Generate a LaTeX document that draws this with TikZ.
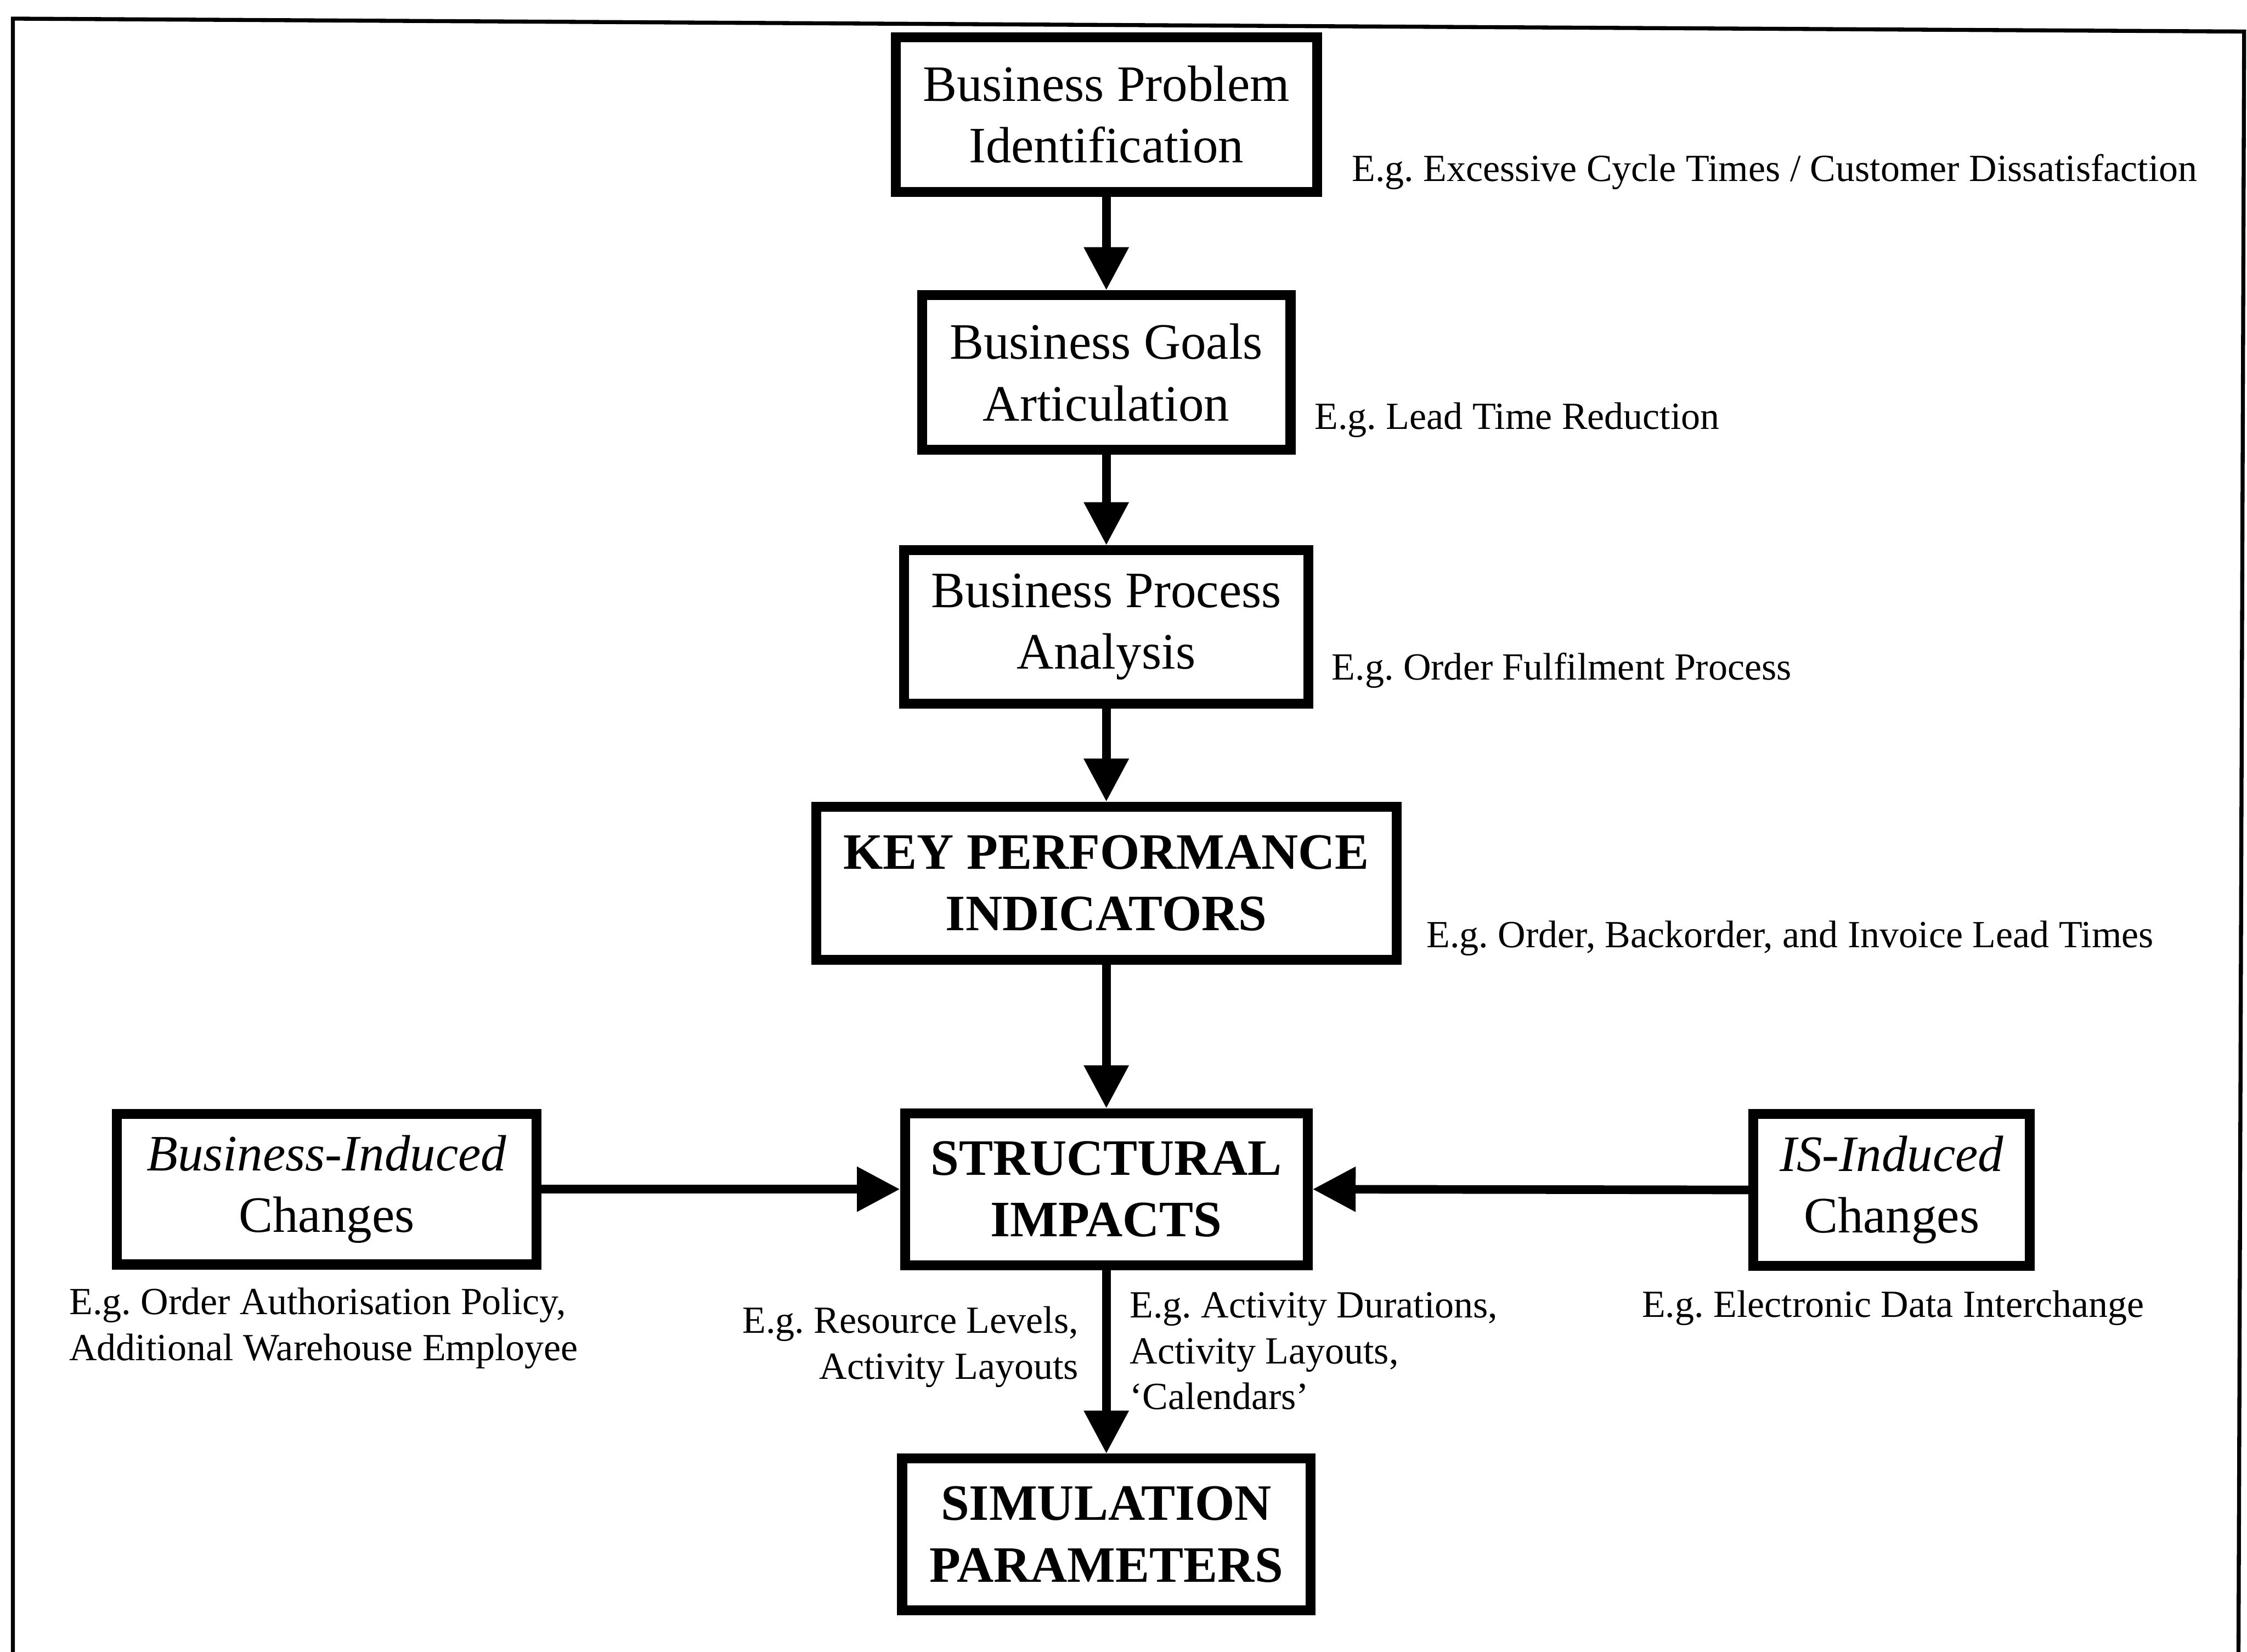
\documentclass[tikz,border=0pt]{standalone}
\usepackage{fontspec}
\setmainfont{Liberation Serif}
\usetikzlibrary{arrows.meta}

\newcommand{\boxfont}{\fontsize{17.8pt}{21.5pt}\selectfont}
\newcommand{\notefont}{\fontsize{13.4pt}{16pt}\selectfont}
\newcommand{\eg}{E.g.\ }

\begin{document}
\begin{tikzpicture}[x=0.5pt, y=-0.5pt,
  stage/.style={draw, line width=3.5pt, inner sep=0pt, align=center, font=\boxfont,
    execute at begin node={\rule{0pt}{19pt}}},
  note/.style={inner sep=0pt, font=\notefont},
  flow/.style={line width=3pt, -{Triangle[length=15pt, width=15pt]}}]

\useasboundingbox (0,0) rectangle (1568,1153);

% outer frame (open at the bottom)
\draw[line width=1.4pt] (9,1170) -- (9,13) -- (1566,22) -- (1562,1170);

% main column
\node[stage, minimum width=147pt, minimum height=54pt] (bpi) at (772,80)
  {Business Problem\\Identification};
\node[stage, minimum width=128.5pt, minimum height=54pt] (bga) at (772,260)
  {Business Goals\\Articulation};
\node[stage, minimum width=141pt, minimum height=53.5pt] (bpa) at (772,437.5)
  {Business Process\\Analysis};
\node[stage, minimum width=202.5pt, minimum height=53.5pt, font=\boxfont\bfseries] (kpi) at (772,616.5)
  {KEY PERFORMANCE\\INDICATORS};
\node[stage, minimum width=140.5pt, minimum height=53pt, font=\boxfont\bfseries] (si) at (772,830)
  {STRUCTURAL\\IMPACTS};
\node[stage, minimum width=142.5pt, minimum height=53pt, font=\boxfont\bfseries] (sp) at (772,1071)
  {SIMULATION\\PARAMETERS};

% side sources of change
\node[stage, minimum width=146.5pt, minimum height=52.5pt] (bic) at (228,830)
  {\textit{Business-Induced}\\Changes};
\node[stage, minimum width=96.5pt, minimum height=53pt] (isc) at (1320,830.5)
  {\textit{IS-Induced}\\Changes};

% connectors
\draw[flow] (bpi) -- (bga);
\draw[flow] (bga) -- (bpa);
\draw[flow] (bpa) -- (kpi);
\draw[flow] (kpi) -- (si);
\draw[flow] (si) -- (sp);
\draw[flow] (bic.east) -- (si.west);
\draw[flow] (isc.west) -- (si.east);

% examples
\node[note, anchor=west] (n1) at (943,120) {\eg Excessive Cycle Times / Customer Dissatisfaction};
\node[note, anchor=west] (n2) at (917,293) {\eg Lead Time Reduction};
\node[note, anchor=west] (n3) at (929,468) {\eg Order Fulfilment Process};
\node[note, anchor=west] (n4) at (995,655) {\eg Order, Backorder, and Invoice Lead Times};
\node[note, anchor=west, align=left] (n5) at (48,927)
  {\eg Order Authorisation Policy,\\Additional Warehouse Employee};
\node[note, anchor=east, align=right] (n6) at (753,940)
  {\eg Resource Levels,\\Activity Layouts};
\node[note, anchor=west, align=left] (n7) at (788,943)
  {\eg Activity Durations,\\Activity Layouts,\\`Calendars'};
\node[note, anchor=center] (n8) at (1321,913) {\eg Electronic Data Interchange};

\end{tikzpicture}
\end{document}
